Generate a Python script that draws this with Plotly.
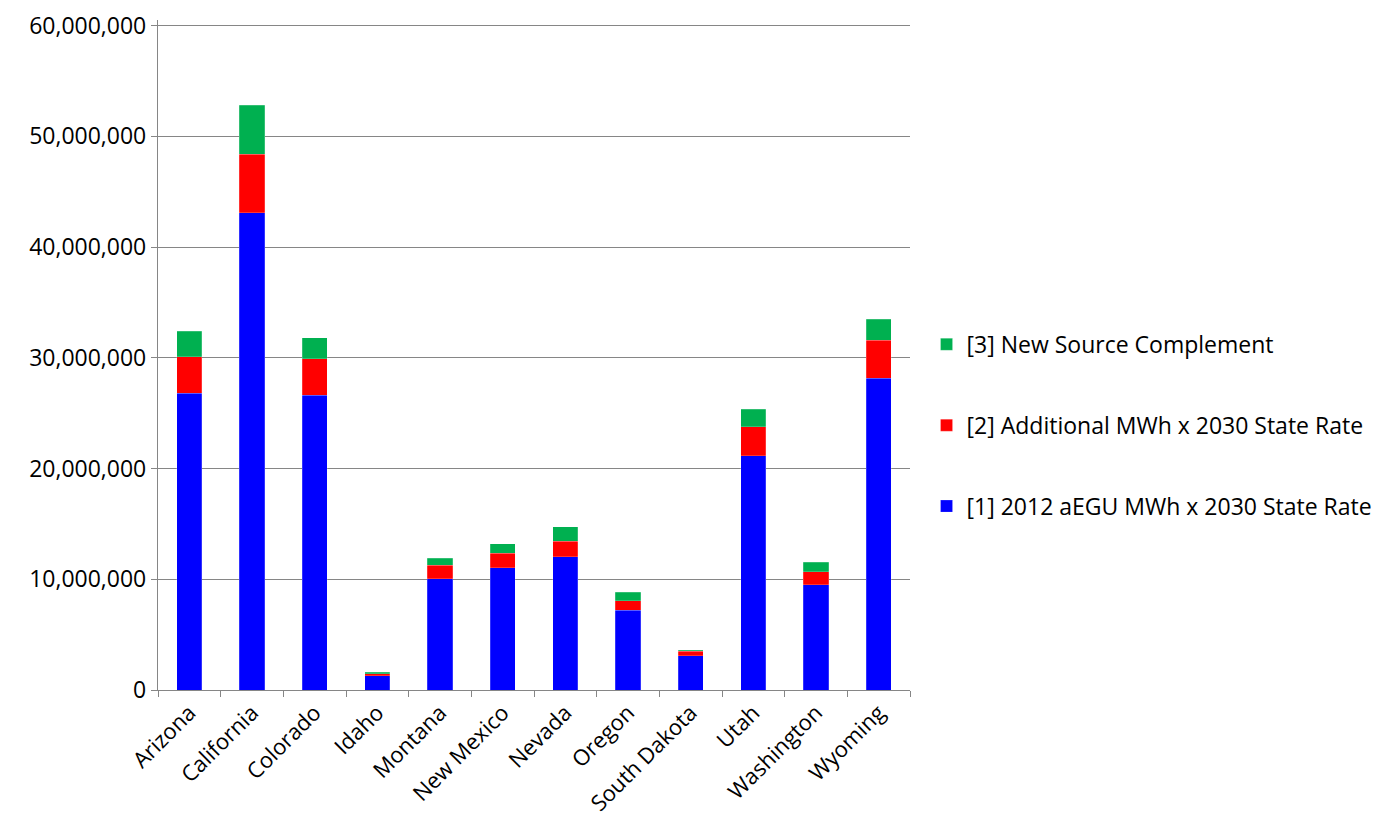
import plotly.graph_objects as go

states = ["Arizona", "California", "Colorado", "Idaho", "Montana", "New Mexico",
          "Nevada", "Oregon", "South Dakota", "Utah", "Washington", "Wyoming"]
s1_base = [26.8e6, 43.1e6, 26.6e6, 1.29e6, 10.05e6, 11.04e6,
           12.03e6, 7.22e6, 3.10e6, 21.14e6, 9.50e6, 28.15e6]
s2_additional = [3.3e6, 5.3e6, 3.3e6, 0.17e6, 1.23e6, 1.32e6,
                 1.40e6, 0.84e6, 0.42e6, 2.62e6, 1.18e6, 3.45e6]
s3_new_source = [2.3e6, 4.4e6, 1.9e6, 0.15e6, 0.63e6, 0.84e6,
                 1.30e6, 0.76e6, 0.06e6, 1.57e6, 0.87e6, 1.90e6]
y_ticks = [0, 10e6, 20e6, 30e6, 40e6, 50e6, 60e6]
y_tick_labels = ["0", "10,000,000", "20,000,000", "30,000,000",
                 "40,000,000", "50,000,000", "60,000,000"]

names = ["[1] 2012 aEGU MWh x 2030 State Rate",
         "[2] Additional MWh x 2030 State Rate",
         "[3] New Source Complement"]
colors = ["#0000FF", "#FF0000", "#00B050"]
series = [s1_base, s2_additional, s3_new_source]
ranks = [3, 2, 1]

fig = go.Figure()
for i, (nm, col, vals) in enumerate(zip(names, colors, series)):
    fig.add_trace(go.Bar(x=states, y=vals, name=nm, legendgroup=f"g{i}",
                         legendrank=ranks[i],
                         marker=dict(color=col, line=dict(color="rgba(255,255,255,0.4)", width=0.5))))

font = "'Open Sans', sans-serif"
fig.update_layout(
    barmode="stack",
    bargap=0.6,
    width=1385, height=825,
    margin=dict(l=158, r=475, t=20, b=135, autoexpand=False),
    paper_bgcolor="white", plot_bgcolor="white",
    font=dict(family=font, size=22, color="black"),
    legend=dict(x=1.022, xanchor="left", y=0.395, yanchor="middle",
                traceorder="grouped", tracegroupgap=48,
                font=dict(size=23), itemwidth=30),
    showlegend=True,
)
fig.update_yaxes(range=[0, 60.5e6], tickvals=y_ticks, ticktext=y_tick_labels,
                 showgrid=True, gridcolor="#868686", gridwidth=1.3,
                 showline=True, linecolor="#868686", linewidth=1.3,
                 ticks="outside", ticklen=6, tickcolor="#868686",
                 zeroline=False, tickfont=dict(size=23), automargin=False)
fig.update_xaxes(tickangle=-45, showline=True, linecolor="#868686", linewidth=1.3,
                 ticks="outside", ticklen=6, tickcolor="#868686", tickson="boundaries",
                 tickfont=dict(size=22), automargin=False)

fig.write_html("out.html")
